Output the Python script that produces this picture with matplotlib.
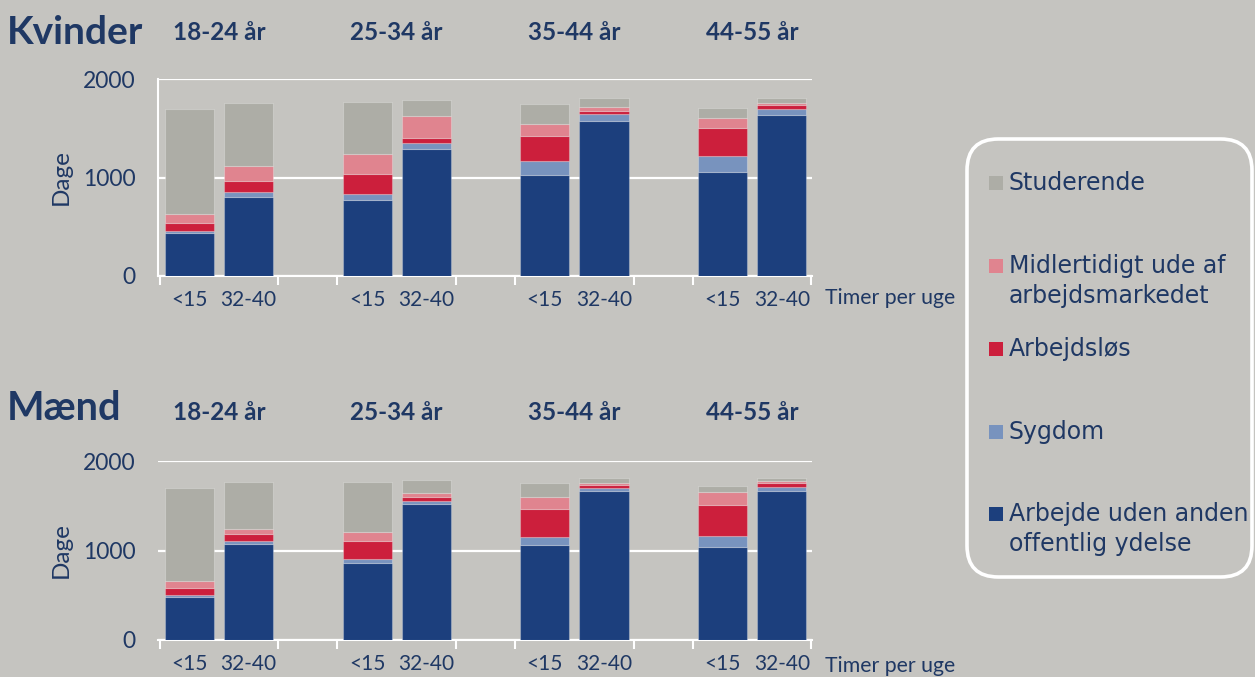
import matplotlib
matplotlib.use("Agg")
import matplotlib.pyplot as plt
import numpy as np
from matplotlib.patches import FancyBboxPatch, Rectangle
from matplotlib.transforms import blended_transform_factory

# ---- data (days) ----
age_groups = ["18-24 år", "25-34 år", "35-44 år", "44-55 år"]
hours = ["<15", "32-40"]
series_names = ["Arbejde uden anden\noffentlig ydelse", "Sygdom", "Arbejdsløs",
                "Midlertidigt ude af\narbejdsmarkedet", "Studerende"]

# order of bars: 18-24 <15, 18-24 32-40, 25-34 <15, ... 44-55 32-40
kvinder_arbejde = [440, 805, 768, 1289, 1029, 1574, 1056, 1631]
kvinder_sygdom = [20, 48, 64, 58, 139, 66, 162, 64]
kvinder_arbejdslos = [75, 111, 204, 57, 256, 40, 288, 44]
kvinder_midlertidigt = [95, 153, 203, 220, 122, 39, 102, 14]
kvinder_studerende = [1065, 639, 524, 166, 200, 88, 101, 51]

maend_arbejde = [484, 1076, 864, 1523, 1061, 1668, 1035, 1668]
maend_sygdom = [19, 34, 37, 26, 93, 30, 123, 45]
maend_arbejdslos = [74, 78, 205, 49, 306, 37, 354, 41]
maend_midlertidigt = [82, 52, 104, 44, 138, 23, 145, 23]
maend_studerende = [1043, 525, 555, 149, 153, 52, 64, 33]

# ---- style ----
BG = "#C5C4C0"
NAVY_TEXT = "#1F3864"
COLORS = ["#1C3F7D", "#7893BE", "#CC1F3C", "#E0848F", "#ADADA6"]
TICK_FONT = "Lato"

W, H = 1255, 677
fig = plt.figure(figsize=(W / 100, H / 100), dpi=100, facecolor=BG)


def fx(px):
    return px / W


def fy(py):
    return 1 - py / H


def draw_panel(rect, stacks, left_spine, header_y):
    ax = fig.add_axes(rect)
    ax.set_facecolor(BG)
    x = []
    for g in range(len(age_groups)):
        for h in range(len(hours)):
            x.append(g * 3 + h)
    x = np.array(x)
    bottom = np.zeros(len(x))
    for vals, col in zip(stacks, COLORS):
        vals = np.array(vals, dtype=float)
        ax.bar(x, vals, width=0.83, bottom=bottom, color=col,
               edgecolor=(1, 1, 1, 0.25), linewidth=0.8, zorder=3)
        bottom += vals

    ax.set_xlim(-0.53, 10.51)
    ax.set_ylim(0, 2000)
    ax.set_yticks([0, 1000, 2000])
    ax.set_yticklabels(["0", "1000", "2000"])
    ax.yaxis.grid(True, color="white", linewidth=1.6, zorder=1)
    ax.set_axisbelow(True)
    ax.tick_params(axis="y", length=0, pad=16, labelsize=16.5,
                   labelcolor=NAVY_TEXT)
    for lab in ax.get_yticklabels():
        lab.set_fontfamily(TICK_FONT)

    ax.set_xticks(x)
    ax.set_xticklabels(hours * len(age_groups))
    ax.tick_params(axis="x", which="major", length=0, pad=10, labelsize=15,
                   labelcolor=NAVY_TEXT)
    for lab in ax.get_xticklabels():
        lab.set_fontfamily(TICK_FONT)
    ax.set_xticks([-0.5, 1.5, 2.5, 4.5, 5.5, 7.5, 8.5, 10.5], minor=True)
    ax.tick_params(axis="x", which="minor", length=6.5, width=1.5,
                   color="white", direction="out")

    for s in ["top", "right"]:
        ax.spines[s].set_visible(False)
    ax.spines["bottom"].set_color("white")
    ax.spines["bottom"].set_linewidth(1.5)
    ax.spines["left"].set_visible(left_spine)
    ax.spines["left"].set_color("white")
    ax.spines["left"].set_linewidth(1.5)

    ax.set_ylabel("Dage", fontsize=17.5, color=NAVY_TEXT, family=TICK_FONT)
    ax.yaxis.set_label_coords(-0.132, 0.5)

    trans = blended_transform_factory(ax.transData, fig.transFigure)
    for g, name in enumerate(age_groups):
        ax.text(g * 3 + 0.5, header_y, name, transform=trans, ha="center",
                va="center", fontsize=17.5, fontweight="bold", color=NAVY_TEXT,
                family=TICK_FONT)
    return ax


top_rect = [fx(158), fy(276), fx(812) - fx(158), fy(79) - fy(276)]
bot_rect = [fx(158), fy(640), fx(812) - fx(158), fy(461) - fy(640)]

draw_panel(top_rect, [kvinder_arbejde, kvinder_sygdom, kvinder_arbejdslos,
                      kvinder_midlertidigt, kvinder_studerende], True, fy(32))
draw_panel(bot_rect, [maend_arbejde, maend_sygdom, maend_arbejdslos,
                      maend_midlertidigt, maend_studerende], False, fy(413))

fig.text(fx(7), fy(33), "Kvinder", fontsize=28, fontweight="bold",
         color=NAVY_TEXT, family=TICK_FONT, va="center")
fig.text(fx(7), fy(408), "Mænd", fontsize=28.5, fontweight="bold",
         color=NAVY_TEXT, family=TICK_FONT, va="center")
fig.text(fx(825), fy(298), "Timer per uge", fontsize=15.3, color=NAVY_TEXT,
         family=TICK_FONT, va="center")
fig.text(fx(825), fy(666), "Timer per uge", fontsize=15.3, color=NAVY_TEXT,
         family=TICK_FONT, va="center")

# ---- legend box ----
box = FancyBboxPatch((fx(967), fy(577)), fx(1252) - fx(967), fy(139) - fy(577),
                     boxstyle="round,pad=0,rounding_size=0.025",
                     transform=fig.transFigure, facecolor="none",
                     edgecolor="white", linewidth=2.6, mutation_aspect=W / H)
fig.patches.append(box)

legend_rows = [  # (series index, y of first text line centre)
    (4, 183), (3, 266), (2, 349), (1, 432), (0, 514)]
for idx, py in legend_rows:
    fig.patches.append(Rectangle((fx(989), fy(py + 7)), fx(14), 14 / H,
                                 transform=fig.transFigure,
                                 facecolor=COLORS[idx], edgecolor="none"))
    fig.text(fx(1009), fy(py - 12), series_names[idx], fontsize=17,
             color=NAVY_TEXT, family="DejaVu Sans", va="top",
             linespacing=1.33)

fig.savefig("out.png", dpi=100, facecolor=BG)
